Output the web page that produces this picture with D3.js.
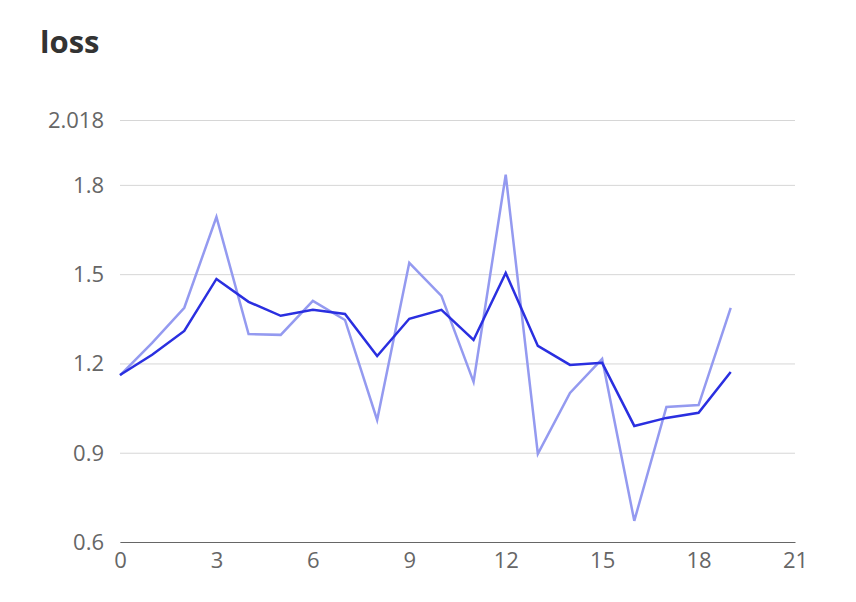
<!DOCTYPE html>
<html><head><meta charset="utf-8">
<script src="https://cdn.jsdelivr.net/npm/d3@7"></script>
<style>body{margin:0;background:#fff;font-family:"Open Sans",sans-serif}</style>
</head><body><svg id="c" width="856" height="602"></svg>
<script>
// loss per step, raw and smoothed
const steps = d3.range(20);
const rawLoss = [1.16,1.269,1.387,1.692,1.299,1.296,1.41,1.346,1.01,1.538,1.427,1.138,1.834,0.896,1.101,1.215,0.671,1.054,1.06,1.387];
const smoothLoss = [1.161,1.229,1.309,1.484,1.407,1.36,1.38,1.366,1.225,1.35,1.38,1.279,1.504,1.259,1.195,1.202,0.99,1.017,1.034,1.171];
const xTicks = [0,3,6,9,12,15,18,21];
const yTicks = [0.6,0.9,1.2,1.5,1.8,2.018];

const svg = d3.select('#c');
const x = d3.scaleLinear().domain([0,21]).range([120,795]);
const y = d3.scaleLinear().domain([0.6,2.018]).range([542,120]);

svg.append('text').attr('x',40).attr('y',53)
  .style('font-size','31px').style('font-weight','bold').style('fill','#333').text('loss');

// gridlines
svg.append('g').attr('transform','translate(120,0)')
  .call(d3.axisLeft(y).tickValues(yTicks).tickSize(-675).tickFormat(''))
  .call(g => g.select('.domain').remove())
  .call(g => g.selectAll('line').attr('stroke','#d6d6d6'));

// y labels
svg.append('g').selectAll('text').data(yTicks).enter().append('text')
  .attr('x',104).attr('y',d => y(d)+8).attr('text-anchor','end')
  .style('font-size','22px').style('fill','#666').text(d => String(d));

// x axis
const xa = svg.append('g').attr('transform','translate(0,542)')
  .call(d3.axisBottom(x).tickValues(xTicks).tickSize(0).tickPadding(10).tickFormat(d3.format('d')));
xa.select('.domain').attr('stroke','#666');
xa.selectAll('text').style('font-size','22px').style('fill','#666').style('font-family','"Open Sans",sans-serif');

const line = d3.line().x((d,i) => x(steps[i])).y(d => y(d));
svg.append('path').datum(rawLoss).attr('d',line).attr('fill','none')
  .attr('stroke','#949af0').attr('stroke-width',2.5);
svg.append('path').datum(smoothLoss).attr('d',line).attr('fill','none')
  .attr('stroke','#2a2fe0').attr('stroke-width',2.5);
</script></body></html>
